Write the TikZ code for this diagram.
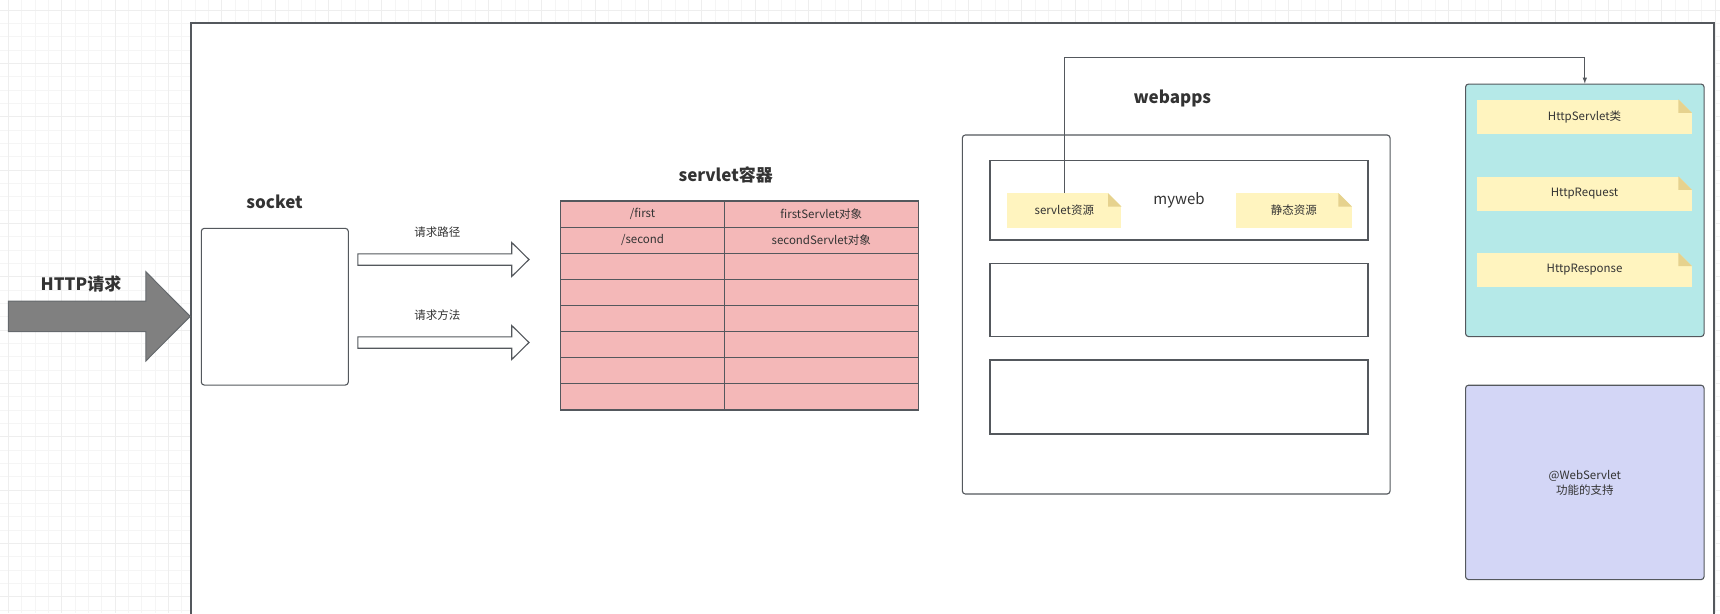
\documentclass[tikz,border=0pt]{standalone}
\usepackage{fontspec}
\setmainfont{Noto Sans CJK SC}
\definecolor{framegray}{HTML}{54585D}
\definecolor{txtgray}{HTML}{333333}
\definecolor{gridgray}{HTML}{F5F5F5}
\definecolor{gridmajor}{HTML}{EEEEEE}
\definecolor{cellpink}{HTML}{F4B8B8}
\definecolor{boxcyan}{HTML}{B5E9E8}
\definecolor{boxpurple}{HTML}{D3D6F6}
\definecolor{noteyellow}{HTML}{FFF4BF}
\definecolor{notefold}{HTML}{E6D28E}
\definecolor{arrowgray}{HTML}{808080}

\tikzset{
  box/.style={draw=framegray,line width=1.1pt,fill=white,inner sep=0pt},
  roundbox/.style={box,rounded corners=3pt},
  cell/.style={draw=framegray,line width=1.1pt,fill=cellpink,
    minimum height=26.125pt,inner sep=0pt},
  notebox/.style={fill=noteyellow,inner sep=0pt,minimum height=34.4pt},
  title/.style={font=\fontsize{17}{20}\selectfont\bfseries},
  conn/.style={draw=framegray,line width=1pt},
}

\begin{document}
\begin{tikzpicture}[x=1pt,y=-1pt,>=latex,
    font=\fontsize{11.5}{14}\selectfont,text=txtgray]
        \clip (0,0) rectangle (1720,613);
        \useasboundingbox (0,0) rectangle (1720,613);

        % Canvas grid and the outer frame.
        \foreach \i in {0,...,129}
            \draw[gridgray,line width=0.8pt] ({8.3+13.333*\i},0) -- ++(0,613);
        \foreach \i in {0,...,46}
            \draw[gridgray,line width=0.8pt] (0,{10+13.333*\i}) -- ++(1720,0);
        \foreach \i in {0,...,32}
            \draw[gridmajor,line width=0.9pt] ({8.3+53.333*\i},0) -- ++(0,613);
        \foreach \i in {0,...,11}
            \draw[gridmajor,line width=0.9pt] (0,{10+53.333*\i}) -- ++(1720,0);
        \draw[box,line width=1.4pt] (191,23) rectangle (1714,650);

        % Incoming request.
        \def\bodyT{301}
        \def\bodyB{331.7}
        \def\headX{145.8}
        \draw[fill=arrowgray,draw=framegray!90,line width=1pt]
            (8.4,\bodyT) -- (\headX,\bodyT) -- (\headX,271.7) --
            (190.2,316.4) -- (\headX,361) -- (\headX,\bodyB) --
            (8.4,\bodyB) -- cycle;
        \node[title] (httplabel) at (81,284) {HTTP请求};

        % Socket.
        \node[roundbox,minimum width=147pt,minimum height=156.7pt]
            (sock) at (274.8,306.7) {};
        \node[title] (socklabel) at (274.6,201.7) {socket};

        % Hollow arrows from the socket to the container.
        \foreach \ay/\nm/\txt in {259.5/path/请求路径,342.5/method/请求方法} {
            \draw[draw=framegray,line width=1.1pt,fill=white]
                (357.8,{\ay-5.7}) -- (511.7,{\ay-5.7}) -- (511.7,{\ay-17}) --
                (529,\ay) -- (511.7,{\ay+17}) -- (511.7,{\ay+5.7}) --
                (357.8,{\ay+5.7}) -- cycle;
            \node (lbl\nm) at (437.4,{\ay-27.8}) {\txt};
        }

        % Servlet container: mapping table.
        \node[title] (ctitle) at (725.7,175) {servlet容器};
        \foreach \r in {0,...,7} {
            \node[cell,minimum width=163.6pt] (l\r)
                at (642.5,{214.06+26.125*\r}) {};
            \node[cell,minimum width=194pt] (r\r)
                at (821.3,{214.06+26.125*\r}) {};
        }
        \node (tfirst) at (l0) {/first};
        \node (tfirstobj) at (r0) {firstServlet对象};
        \node (tsecond) at (l1) {/second};
        \node (tsecondobj) at (r1) {secondServlet对象};

        % Webapps with the deployed applications.
        \node[title] (wtitle) at (1172.3,98.3) {webapps};
        \node[roundbox,minimum width=427.7pt,minimum height=359pt]
            (webapps) at (1176.2,314.5) {};
        \node[box,minimum width=378pt,minimum height=79.3pt,
            font=\fontsize{15}{18}\selectfont] (myweb) at (1179,200.3) {myweb};
        \node[box,minimum width=378pt,minimum height=73.4pt]
            (app2) at (1179,300) {};
        \node[box,minimum width=378pt,minimum height=74pt]
            (app3) at (1179,397) {};
        \node[notebox,minimum width=114pt] (srvres) at (1064.3,210.5)
            {servlet资源};
        \node[notebox,minimum width=115.7pt] (statres) at (1293.8,210.5)
            {静态资源};

        % Servlet API classes and annotation support.
        \node[roundbox,fill=boxcyan,minimum width=238.5pt,
            minimum height=252.5pt] (hsbox) at (1584.8,210.3) {};
        \node[notebox,minimum width=214.4pt] (hsclass) at (1584.5,116.8)
            {HttpServlet类};
        \node[notebox,minimum width=214.4pt] (hreq) at (1584.5,193.7)
            {HttpRequest};
        \node[notebox,minimum width=214.4pt] (hresp) at (1584.5,269.9)
            {HttpResponse};
        \node[roundbox,fill=boxpurple,minimum width=238.5pt,
            minimum height=194.4pt,align=center,
            font=\fontsize{11.5}{15}\selectfont] (annot) at (1584.8,482.4)
            {@WebServlet\\功能的支持};

        % Folded corners of the notes.
        \foreach \n/\bg in {srvres/white,statres/white,hsclass/boxcyan,
            hreq/boxcyan,hresp/boxcyan} {
            \fill[\bg] (\n.north east) -- ++(-13.5,0) -- ++(13.5,13.5) -- cycle;
            \fill[notefold] (\n.north east) ++(-13.5,0) -- ++(0,13.5) --
                ++(13.5,0) -- cycle;
        }

        % Servlet resource loaded as HttpServlet class.
        \coordinate (bend) at (1300,57.5);
        \draw[conn,->] (srvres.north) |- (bend -| hsbox.north) -- (hsbox.north);
    \end{tikzpicture}
\end{document}
